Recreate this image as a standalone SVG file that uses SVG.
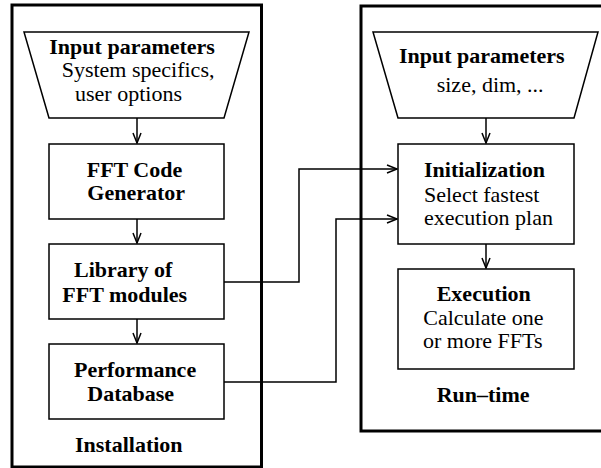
<svg xmlns="http://www.w3.org/2000/svg" width="601" height="468" viewBox="0 0 601 468">
<style>
.cont{fill:none;stroke:#000;stroke-width:3}
.box{fill:#fff;stroke:#000;stroke-width:1.5}
.c{fill:none;stroke:#000;stroke-width:1.5}
text{font-family:"Liberation Serif","Times New Roman",serif;font-size:22px;fill:#000}
.b{font-weight:bold}
</style>
<defs>
<marker id="ah" markerUnits="userSpaceOnUse" markerWidth="14" markerHeight="12" refX="11" refY="5" orient="auto" viewBox="0 0 14 10">
<path d="M1,1 L11,5 L1,9" fill="none" stroke="#000" stroke-width="1.5"/>
</marker>
</defs>
<rect id="installation" class="cont" x="12" y="5" width="249.5" height="462"/>
<rect id="runtime" class="cont" x="361" y="6" width="250" height="425"/>
<g id="connectors">
<path class="c" d="M137,118 V143" marker-end="url(#ah)"/>
<path class="c" d="M137,219 V243" marker-end="url(#ah)"/>
<path class="c" d="M137,319 V343" marker-end="url(#ah)"/>
<path class="c" d="M486,118 V143" marker-end="url(#ah)"/>
<path class="c" d="M486,244 V268" marker-end="url(#ah)"/>
<path class="c" d="M224,282 H299 V169 H397" marker-end="url(#ah)"/>
<path class="c" d="M224,382 H336 V219 H397" marker-end="url(#ah)"/>
</g>
<g id="input1">
<polygon class="box" points="24,32 249,32 224,118 49,118"/>
<text class="b" x="49.3" y="54">Input parameters</text>
<text x="61.7" y="77">System specifics,</text>
<text x="75" y="100.7">user options</text>
</g>
<g id="fftgen">
<rect class="box" x="49" y="144" width="175" height="75"/>
<text class="b" x="86.7" y="176.7">FFT Code</text>
<text class="b" x="87.3" y="200">Generator</text>
</g>
<g id="library">
<rect class="box" x="49" y="244" width="175" height="75"/>
<text class="b" x="74" y="276.7">Library of</text>
<text class="b" x="62.3" y="301.7">FFT modules</text>
</g>
<g id="perfdb">
<rect class="box" x="49" y="344" width="175" height="75"/>
<text class="b" x="74" y="376.7">Performance</text>
<text class="b" x="87.3" y="401">Database</text>
</g>
<text class="b" x="75" y="451.7">Installation</text>
<g id="input2">
<polygon class="box" points="373,32 598,32 574,118 398,118"/>
<text class="b" x="399" y="63.3">Input parameters</text>
<text x="436.7" y="92">size, dim, ...</text>
</g>
<g id="init">
<rect class="box" x="398" y="144" width="176" height="100"/>
<text class="b" x="424" y="176.7">Initialization</text>
<text x="424" y="201.7">Select fastest</text>
<text x="424" y="224.7">execution plan</text>
</g>
<g id="exec">
<rect class="box" x="398" y="269" width="176" height="100"/>
<text class="b" x="436.7" y="300.7">Execution</text>
<text x="423.3" y="325">Calculate one</text>
<text x="423" y="348.3">or more FFTs</text>
</g>
<text class="b" x="436.7" y="401.7">Run–time</text>
</svg>
